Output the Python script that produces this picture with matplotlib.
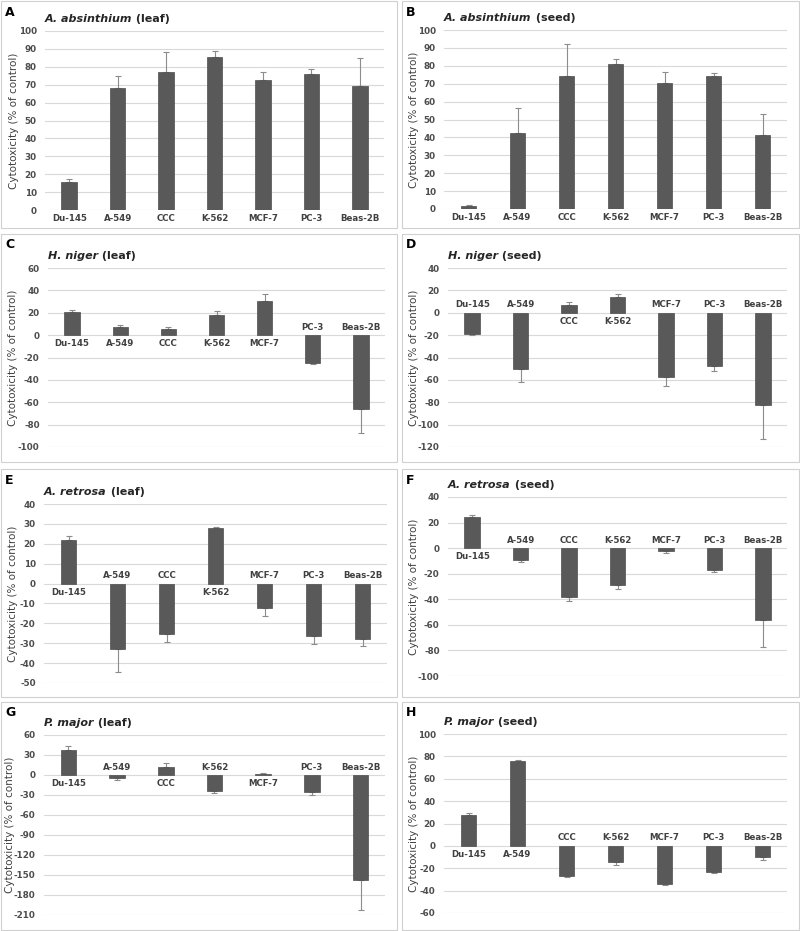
import matplotlib
matplotlib.use("Agg")
import matplotlib.pyplot as plt
from matplotlib.patches import Rectangle
import numpy as np

W, H = 800, 931
plt.rcParams['font.family'] = ['DejaVu Sans']
plt.rcParams['axes.unicode_minus'] = False

cells = ["Du-145", "A-549", "CCC", "K-562", "MCF-7", "PC-3", "Beas-2B"]

# values (% of control) and one-sided error (away from zero)
a_leaf = [15.8, 68.0, 77.3, 85.7, 72.6, 76.0, 69.3]
a_leaf_err = [1.6, 6.9, 10.8, 3.3, 4.7, 2.6, 15.8]
a_seed = [1.5, 42.4, 74.3, 80.9, 70.6, 74.2, 41.4]
a_seed_err = [0.5, 14.3, 17.7, 2.7, 6.2, 1.6, 11.8]
h_leaf = [20.8, 7.4, 5.6, 18.4, 30.7, -25.2, -66.2]
h_leaf_err = [1.8, 1.8, 1.8, 3.3, 6.0, 0.9, 21.2]
h_seed = [-18.7, -50.3, 6.6, 14.1, -57.1, -47.9, -82.2]
h_seed_err = [1.5, 11.9, 2.7, 3.0, 8.7, 4.5, 30.4]
r_leaf = [21.9, -33.0, -25.5, 27.7, -12.2, -26.5, -28.0]
r_leaf_err = [2.0, 11.6, 4.1, 0.5, 3.9, 3.7, 3.5]
r_seed = [24.3, -9.4, -38.1, -29.0, -2.3, -17.0, -56.3]
r_seed_err = [1.3, 1.6, 3.4, 2.8, 1.6, 1.3, 20.9]
p_leaf = [37.5, -5.0, 12.0, -23.5, 2.0, -26.0, -157.5]
p_leaf_err = [6.0, 2.0, 5.5, 4.0, 1.0, 4.0, 45.0]
p_seed = [27.9, 75.5, -27.2, -14.7, -33.8, -23.4, -10.3]
p_seed_err = [1.5, 0.9, 0.9, 2.1, 1.5, 1.2, 2.1]

panels = [
    dict(letter="A", sp="A. absinthium", part=" (leaf)", v=a_leaf, e=a_leaf_err,
         ylim=(0, 100), step=10, box=(1, 1, 397, 228), ax=(45, 31, 384, 210), ylx=13),
    dict(letter="B", sp="A. absinthium", part=" (seed)", v=a_seed, e=a_seed_err,
         ylim=(0, 100), step=10, box=(402, 1, 799, 228), ax=(444, 30, 787, 209), ylx=12),
    dict(letter="C", sp="H. niger", part=" (leaf)", v=h_leaf, e=h_leaf_err,
         ylim=(-100, 60), step=20, box=(1, 234, 397, 462), ax=(48, 268, 385, 447), ylx=12),
    dict(letter="D", sp="H. niger", part=" (seed)", v=h_seed, e=h_seed_err,
         ylim=(-120, 40), step=20, box=(402, 234, 799, 462), ax=(448, 268, 787, 447), ylx=12),
    dict(letter="E", sp="A. retrosa", part=" (leaf)", v=r_leaf, e=r_leaf_err,
         ylim=(-50, 40), step=10, box=(1, 469, 397, 697), ax=(44, 504, 387, 683), ylx=12),
    dict(letter="F", sp="A. retrosa", part=" (seed)", v=r_seed, e=r_seed_err,
         ylim=(-100, 40), step=20, box=(402, 469, 799, 697), ax=(448, 497, 787, 676), ylx=12),
    dict(letter="G", sp="P. major", part=" (leaf)", v=p_leaf, e=p_leaf_err,
         ylim=(-210, 60), step=30, box=(1, 702, 397, 930), ax=(44, 735, 385, 915), ylx=9),
    dict(letter="H", sp="P. major", part=" (seed)", v=p_seed, e=p_seed_err,
         ylim=(-60, 100), step=20, box=(402, 702, 799, 930), ax=(444, 734, 787, 913), ylx=12),
]

fig = plt.figure(figsize=(W / 100, H / 100), dpi=100)
fig.patch.set_facecolor("white")

def fx(x):
    return x / W

def fy(y):
    return 1 - y / H

bar_color = "#595959"
err_color = "#8c8c8c"
grid_color = "#d9d9d9"
txt_color = "#404040"

pairs = []
for p in panels:
    bx0, by0, bx1, by1 = p["box"]
    fig.patches.append(Rectangle((fx(bx0), fy(by1)), fx(bx1 - bx0), (by1 - by0) / H,
                                 transform=fig.transFigure, fill=False,
                                 edgecolor="#d0d0d0", linewidth=0.8))
    l, t, r, b = p["ax"]
    ax = fig.add_axes([fx(l), fy(b), (r - l) / W, (b - t) / H])
    v = np.array(p["v"])
    e = np.array(p["e"])
    x = np.arange(len(cells))
    lo = np.where(v < 0, e, 0)
    hi = np.where(v >= 0, e, 0)
    ax.bar(x, v, width=0.32, color=bar_color, edgecolor="#4d4d4d", linewidth=0.5, zorder=3)
    ax.errorbar(x, v, yerr=[lo, hi], fmt="none", ecolor=err_color, elinewidth=0.8,
                capsize=2, capthick=0.8, zorder=2)
    y0, y1 = p["ylim"]
    ax.set_ylim(y0, y1)
    ax.set_xlim(-0.5, len(cells) - 0.5)
    ax.set_yticks(np.arange(y0, y1 + 0.1, p["step"]))
    ax.yaxis.grid(True, color=grid_color, linewidth=0.8, zorder=0)
    ax.set_axisbelow(True)
    ax.set_xticks([])
    for s in ax.spines.values():
        s.set_visible(False)
    ax.tick_params(axis="y", length=0, pad=6, labelsize=6.3, labelcolor="#4d4d4d")
    for lab in ax.get_yticklabels():
        lab.set_fontweight("bold")
    ax.set_ylabel("Cytotoxicity (% of control)", fontsize=7.5, color=txt_color)
    ax.yaxis.set_label_coords((bx0 + p["ylx"] - l) / (r - l), 0.5)
    ax.yaxis.label.set_va("center")
    ax.patch.set_alpha(0)
    for i, (name, val) in enumerate(zip(cells, v)):
        if val >= 0:
            ax.annotate(name, xy=(i, 0), xytext=(0, -3), textcoords="offset points",
                        ha="center", va="top", fontsize=6.2, fontweight="bold", color=txt_color)
        else:
            ax.annotate(name, xy=(i, 0), xytext=(0, 2.5), textcoords="offset points",
                        ha="center", va="bottom", fontsize=6.2, fontweight="bold", color=txt_color)
    # panel letter
    fig.text(fx(bx0 + 4), fy(by0 + 11), p["letter"], fontsize=9, fontweight="bold",
             color="black", ha="left", va="center")
    # title
    t1 = fig.text(fx(l), fy(t - 9), p["sp"], fontsize=8, fontweight="bold", style="italic",
                  color="#262626", ha="left", va="baseline")
    t2 = fig.text(fx(l), fy(t - 9), p["part"], fontsize=8, fontweight="bold", color="#262626",
                  ha="left", va="baseline")
    pairs.append((t1, t2))

# place second part of titles right after first part
fig.canvas.draw()
renderer = fig.canvas.get_renderer()
for t1, t2 in pairs:
    bb = t1.get_window_extent(renderer)
    t2.set_position((bb.x1 / fig.bbox.width, t1.get_position()[1]))

fig.savefig("out.png", dpi=100, facecolor="white")
